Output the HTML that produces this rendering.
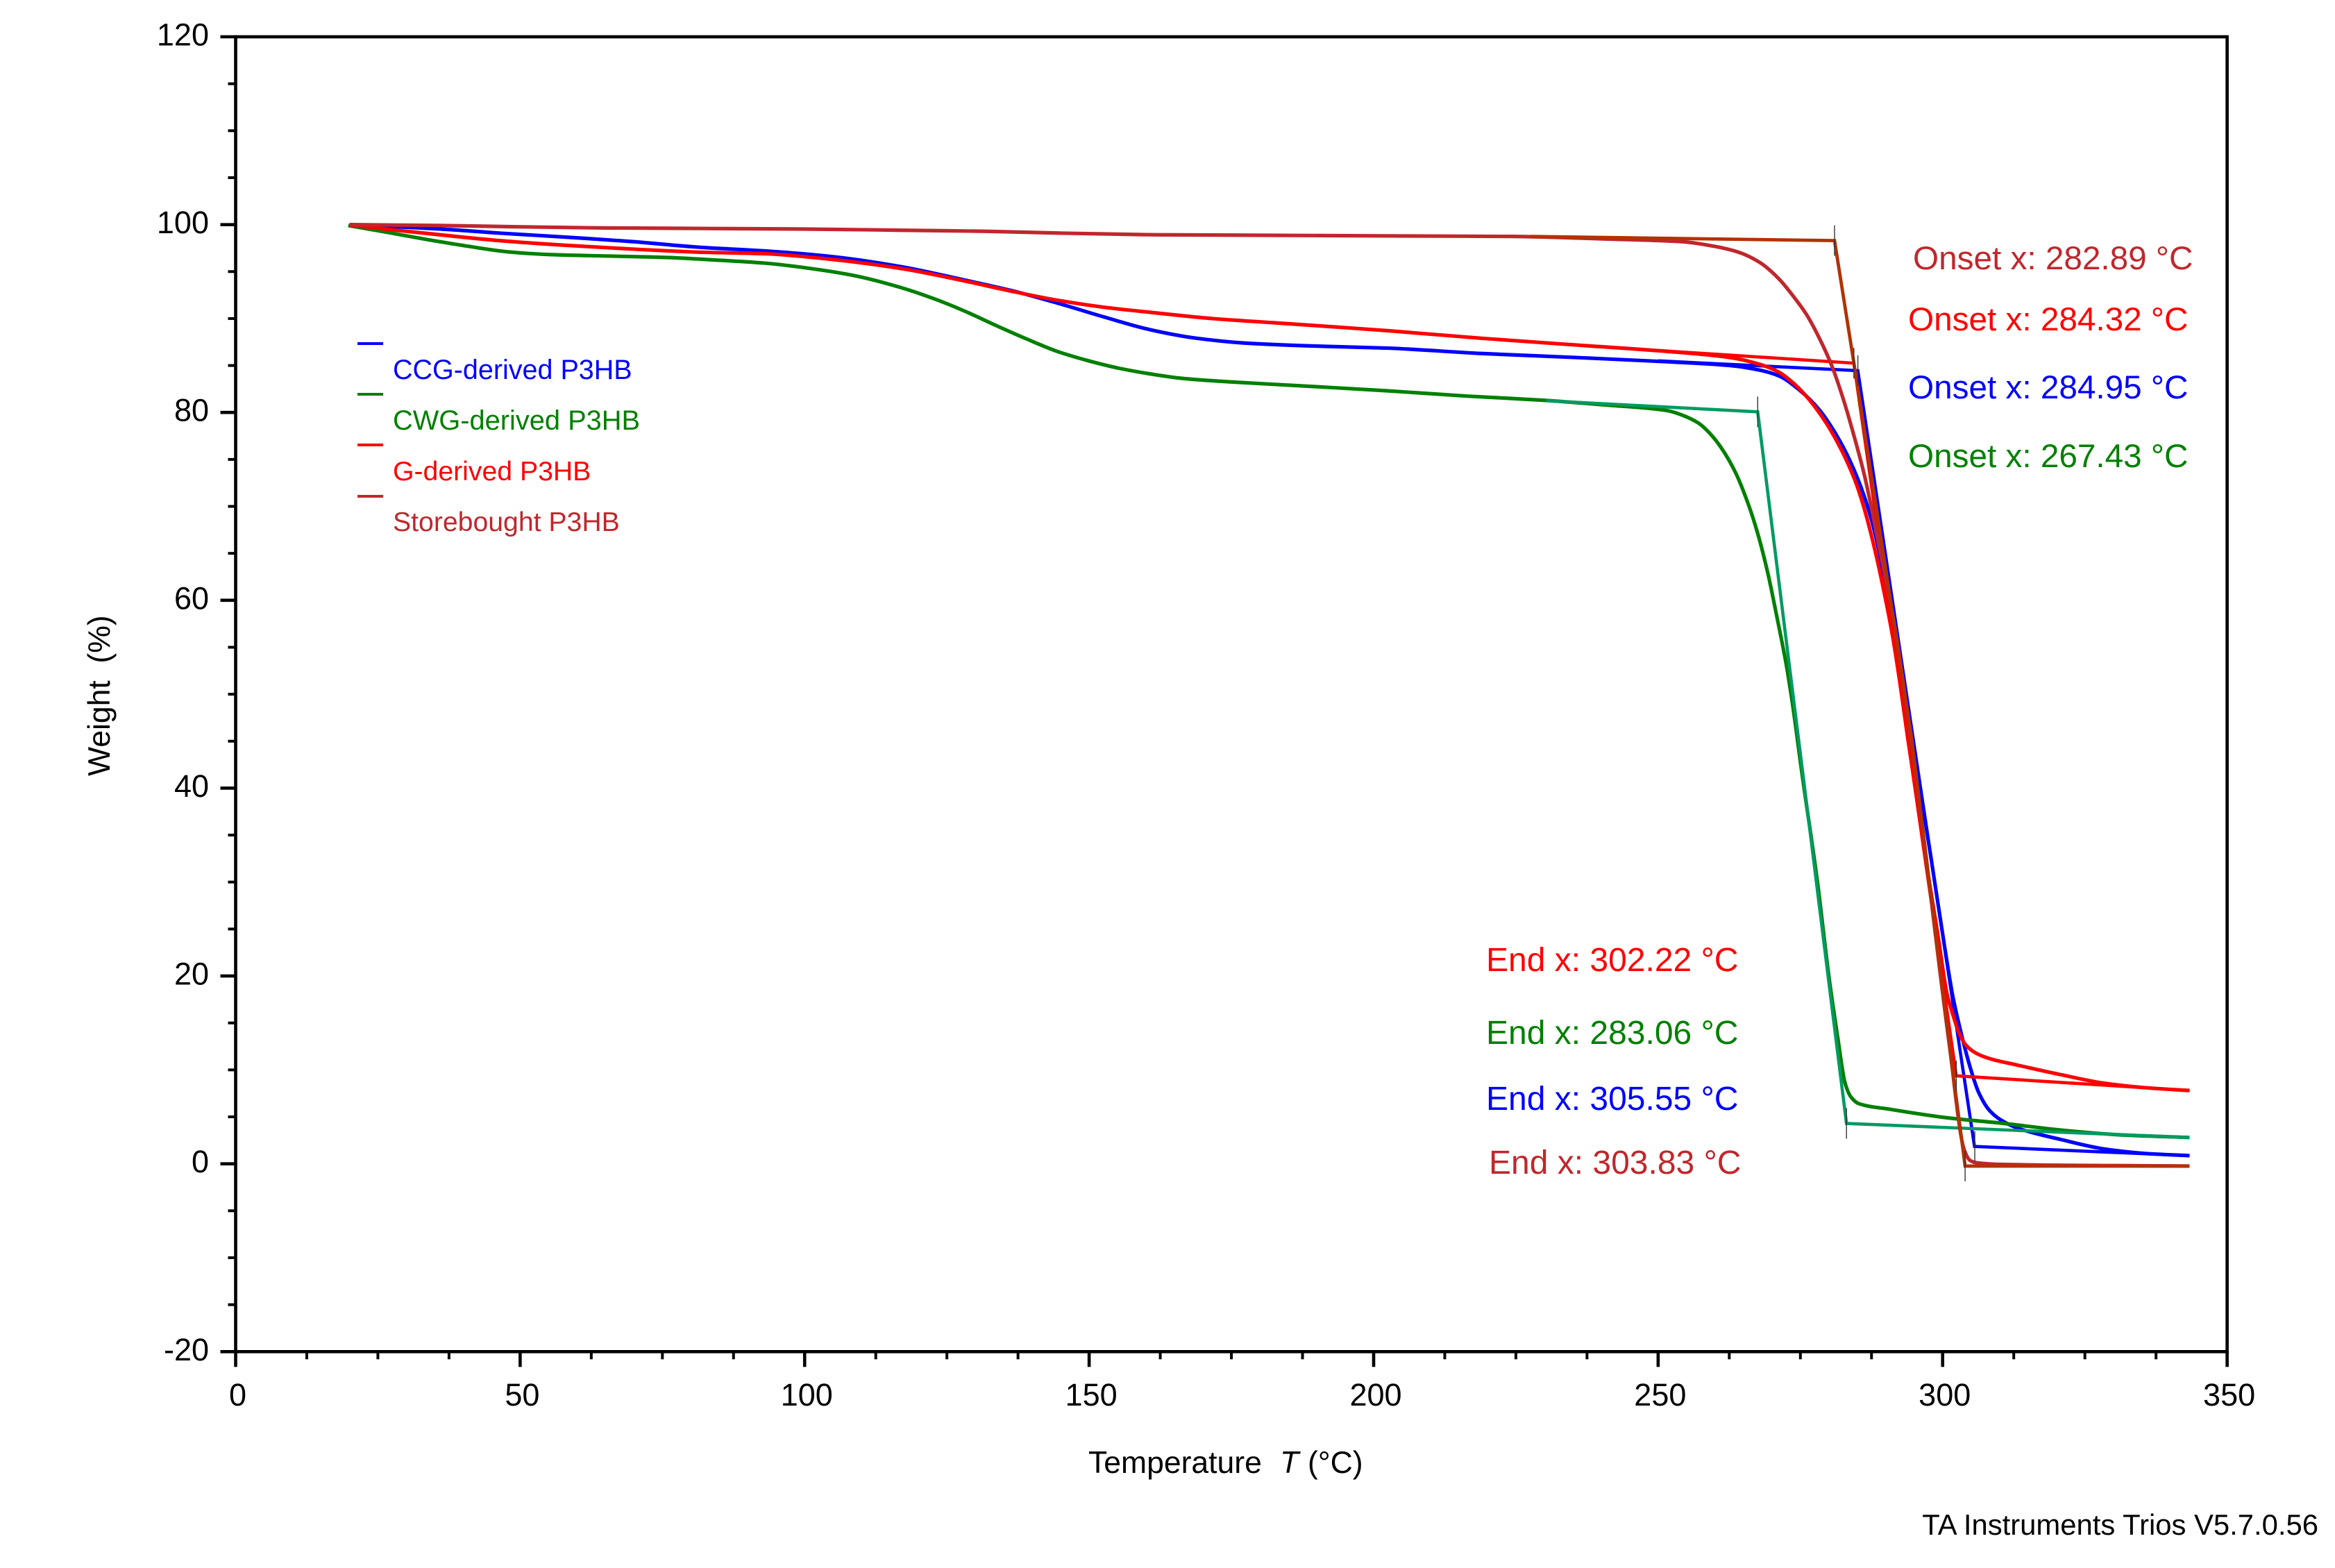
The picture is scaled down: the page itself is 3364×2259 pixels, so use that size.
<!DOCTYPE html>
<html lang="en">
<head>
<meta charset="utf-8">
<title>TGA Weight vs Temperature</title>
<style>
html,body{margin:0;padding:0;background:#fff;}
svg{display:block;font-family:"Liberation Sans",Arial,sans-serif;}
</style>
</head>
<body>
<svg id="chart" xmlns="http://www.w3.org/2000/svg" width="3364" height="2259" viewBox="0 0 3364 2259">
  <rect x="0" y="0" width="3364" height="2259" fill="#ffffff"/>
  <g id="marks"></g>
  <g id="axes"></g>

  <text transform="rotate(-90 158 1118)" x="158" y="1118" font-size="44.5" fill="#000" xml:space="preserve">Weight  (%)</text>
  <text y="2122" font-size="44.5" fill="#000"><tspan x="1568">Temperature</tspan><tspan x="1844" font-style="italic">T</tspan><tspan x="1884">(°C)</tspan></text>
  <text x="3340" y="2211" font-size="41.8" text-anchor="end" fill="#000">TA Instruments Trios V5.7.0.56</text>

  <g font-size="39.5">
    <rect x="515" y="493" width="37" height="4" fill="#0000ff"/>
    <text x="566" y="546" fill="#0000ff">CCG-derived P3HB</text>
    <rect x="515" y="566" width="37" height="4" fill="#008000"/>
    <text x="566" y="619" fill="#008000" font-size="39.8">CWG-derived P3HB</text>
    <rect x="515" y="639" width="37" height="4" fill="#ff0000"/>
    <text x="566" y="692" fill="#ff0000" font-size="39.2">G-derived P3HB</text>
    <rect x="515" y="713" width="37" height="4" fill="#c0272d"/>
    <text x="566" y="765" fill="#c0272d" font-size="39.2">Storebought P3HB</text>
  </g>

  <g font-size="47.7">
    <text x="2756" y="388" fill="#c0272d">Onset x: 282.89 °C</text>
    <text x="2749" y="476" fill="#ff0000">Onset x: 284.32 °C</text>
    <text x="2749" y="574" fill="#0000ff">Onset x: 284.95 °C</text>
    <text x="2749" y="673" fill="#008000">Onset x: 267.43 °C</text>
    <text x="2141" y="1399" font-size="48" fill="#ff0000">End x: 302.22 °C</text>
    <text x="2141" y="1504" font-size="48" fill="#008000">End x: 283.06 °C</text>
    <text x="2141" y="1599" font-size="48" fill="#0000ff">End x: 305.55 °C</text>
    <text x="2145" y="1691" font-size="48" fill="#c0272d">End x: 303.83 °C</text>
  </g>
</svg>

<script>
// Axis tick labels
const xTickLabels = [0, 50, 100, 150, 200, 250, 300, 350];
const yTickLabels = [-20, 0, 20, 40, 60, 80, 100, 120];

// CCG-derived P3HB
const ccgTemp = [20,36.9,46.3,58,69.6,81.3,93,104.7,117.2,128.1,136.2,144.4,152.6,160.8,168.9,177.1,188,202.6,218.9,235.2,251.6,262.5,267.9,271.2,275,278.3,280.2,282.7,285.1,287.2,288.8,290.2,291.6,295,298,300.4,301.8,303.4,304.8,306.3,308.25,310.2,313.2,320.7,328.2,335.6,343.4];
const ccgWeight = [100,99.5,99.1,98.67,98.2,97.6,97.2,96.6,95.5,94.1,93,91.65,90.17,88.8,87.9,87.4,87.1,86.85,86.28,85.86,85.4,85,84.5,83.9,82.3,80.3,78.7,76.1,72.9,69.2,65.3,60.9,56.8,44,32.4,22.9,17.8,13.55,10.35,7.64,5.67,4.68,3.8,2.6,1.6,1.1,0.87];
const ccgTangentTemp = [250,285.1,305.6,343.4];
const ccgTangentWeight = [85.5,84.45,1.85,0.87];

// CWG-derived P3HB
const cwgTemp = [19.8,26.8,33.8,40.8,47.9,55.6,65.8,75.9,85.2,93,100.8,108.5,117.2,122.6,128.1,133.5,139,144.4,149.9,155.3,160.8,166.2,174.4,185.3,202.6,216.2,229.8,240.7,251.6,254.3,257,259.2,261.13,263.6,266,267.6,269.3,270.9,272.5,273.7,275.2,278,280,281.6,282.85,283.85,285.3,290.8,300.8,310.7,320.7,330.7,343.4];
const cwgWeight = [99.9,99.16,98.4,97.7,97.1,96.8,96.65,96.5,96.2,95.9,95.35,94.6,93.25,92.14,90.8,89.3,87.83,86.5,85.5,84.7,84.1,83.64,83.27,82.9,82.3,81.75,81.3,80.8,80.2,79.7,78.9,77.7,76.2,73.6,69.97,66.9,62.83,58.15,53.2,48.6,41.9,30,20,13.3,8.6,7.15,6.4,5.8,4.9,4.3,3.6,3.1,2.8];
const cwgTangentTemp = [230.3,267.5,283.1,343.4];
const cwgTangentWeight = [81.25,80.07,4.3,2.8];

// G-derived P3HB
const gTemp = [20,26.8,34.6,46.3,58,69.6,81.3,93,104.7,117.2,128.1,136.2,144.4,152.6,160.8,171.6,182.5,193.4,202.6,218.9,235.2,251.6,262.5,267.9,271.2,274,276.5,279.4,282.3,284.7,286.3,288,289.6,291.2,292.45,293.9,295.7,297.3,299.2,300.8,301.8,302.8,304,305.8,308.25,313.2,320.7,328.2,335.6,343.4];
const gWeight = [99.95,99.5,99,98.3,97.8,97.4,97.07,96.9,96.3,95.3,94,92.93,91.95,91.2,90.66,90,89.55,89.1,88.7,87.9,87.2,86.5,85.86,85.12,84.3,83,81.4,79,75.9,72.6,69.6,65.6,61.2,56.2,51.4,45.2,38,31.4,24.2,18,15.9,14.05,12.7,11.8,11.2,10.5,9.5,8.6,8.1,7.8];
const gTangentTemp = [250,284.4,302.4,343.4];
const gTangentWeight = [86.6,85.25,9.37,7.8];

// Storebought P3HB
const storeTemp = [20,36.9,48.6,62.6,79,100,117.2,131.9,145.5,161.8,189.1,202.6,224.4,240.7,254.3,259.8,264.1,267.9,271.2,273.9,276.1,278.3,280.5,282.6,284.7,286.3,287.6,288.8,291.4,294.5,301.2,303.8,304.8,305.8,310.7,343.4];
const storeWeight = [100,99.9,99.78,99.66,99.6,99.53,99.4,99.29,99.09,98.92,98.84,98.8,98.74,98.47,98.18,97.7,97.07,95.96,94.24,92.26,90.4,87.95,85,81.3,76.9,73.2,69.5,65.8,57.9,45,12.57,1.48,0.37,0.13,-0.07,-0.24];
const storeTangentTemp = [227.6,281,285.5,294.5,301.2,303.95,343.4];
const storeTangentWeight = [98.74,98.3,81.06,45.58,12.57,-0.24,-0.24];

// Onset / end vertices marked with thin vertical cursors
const cursorTemp = [281,284.4,285.1,267.5,303.95,302.4,305.65,283.1];
const cursorWeight = [98.3,85.25,84.45,80.07,-0.24,9.37,1.85,4.3];

const NS = 'http://www.w3.org/2000/svg';
const plotLeft = 339.5, plotRight = 3208.6, plotTop = 53, plotBottom = 1947.3;
const xMin = 0, xMax = 350, yMin = -20, yMax = 120;
function xScale(v) { return plotLeft + (v - xMin) / (xMax - xMin) * (plotRight - plotLeft); }
function yScale(v) { return plotBottom - (v - yMin) / (yMax - yMin) * (plotBottom - plotTop); }

const marks = document.getElementById('marks');
const axes = document.getElementById('axes');

function pointsOf(ts, ws) {
  return ts.map(function (t, i) { return xScale(t).toFixed(2) + ',' + yScale(ws[i]).toFixed(2); }).join(' ');
}
// Monotone cubic (Fritsch-Carlson) path through the data points
function smoothPathOf(ts, ws) {
  const xs = ts.map(xScale), ys = ws.map(yScale), n = xs.length;
  const sec = [], m = new Array(n);
  for (let i = 0; i < n - 1; i++) sec.push((ys[i + 1] - ys[i]) / (xs[i + 1] - xs[i]));
  m[0] = sec[0]; m[n - 1] = sec[n - 2];
  for (let i = 1; i < n - 1; i++) {
    if (sec[i - 1] * sec[i] <= 0) { m[i] = 0; }
    else {
      const h0 = xs[i] - xs[i - 1], h1 = xs[i + 1] - xs[i];
      const w1 = 2 * h1 + h0, w2 = h1 + 2 * h0;
      m[i] = (w1 + w2) / (w1 / sec[i - 1] + w2 / sec[i]);
    }
  }
  let d = 'M' + xs[0].toFixed(2) + ' ' + ys[0].toFixed(2);
  for (let i = 0; i < n - 1; i++) {
    const h = (xs[i + 1] - xs[i]) / 3;
    d += 'C' + (xs[i] + h).toFixed(2) + ' ' + (ys[i] + m[i] * h).toFixed(2) + ' ' +
         (xs[i + 1] - h).toFixed(2) + ' ' + (ys[i + 1] - m[i + 1] * h).toFixed(2) + ' ' +
         xs[i + 1].toFixed(2) + ' ' + ys[i + 1].toFixed(2);
  }
  return d;
}
function drawLine(parent, x1, y1, x2, y2, w, color) {
  const l = document.createElementNS(NS, 'line');
  l.setAttribute('x1', x1); l.setAttribute('y1', y1);
  l.setAttribute('x2', x2); l.setAttribute('y2', y2);
  l.setAttribute('stroke', color); l.setAttribute('stroke-width', w);
  parent.appendChild(l);
  return l;
}
function drawCurve(ts, ws, color, width) {
  const p = document.createElementNS(NS, 'path');
  p.setAttribute('d', smoothPathOf(ts, ws));
  p.setAttribute('fill', 'none');
  p.setAttribute('stroke', color);
  p.setAttribute('stroke-width', width);
  p.setAttribute('stroke-linejoin', 'round');
  marks.appendChild(p);
  return p;
}
function drawTangent(ts, ws, color, width) {
  const p = document.createElementNS(NS, 'polyline');
  p.setAttribute('points', pointsOf(ts, ws));
  p.setAttribute('fill', 'none');
  p.setAttribute('stroke', color);
  p.setAttribute('stroke-width', width);
  p.setAttribute('stroke-linejoin', 'miter');
  marks.appendChild(p);
  return p;
}

let s;
s = drawCurve(ccgTemp, ccgWeight, '#0000ff', 5.2);


s = drawTangent(ccgTangentTemp, ccgTangentWeight, '#0000ff', 4.6);


s = drawCurve(cwgTemp, cwgWeight, '#008000', 5.2);


s = drawTangent(cwgTangentTemp, cwgTangentWeight, '#009a63', 4.6);


s = drawCurve(gTemp, gWeight, '#ff0000', 5.2);


s = drawTangent(gTangentTemp, gTangentWeight, '#ff0000', 4.6);


s = drawCurve(storeTemp, storeWeight, '#c0272d', 5.2);


s = drawTangent(storeTangentTemp, storeTangentWeight, '#b23204', 4.8);



cursorTemp.forEach(function (t, i) {
  const cx = xScale(t), cy = yScale(cursorWeight[i]);
  const c = drawLine(marks, cx, cy - 22, cx, cy + 22, 1.4, '#333333');
  
  
});

// Axis frame
const frame = document.createElementNS(NS, 'rect');
frame.setAttribute('x', plotLeft);
frame.setAttribute('y', plotTop);
frame.setAttribute('width', plotRight - plotLeft);
frame.setAttribute('height', plotBottom - plotTop);
frame.setAttribute('fill', 'none');
frame.setAttribute('stroke', '#000');
frame.setAttribute('stroke-width', 4.6);


axes.appendChild(frame);

// X ticks
const xMinorPerMajor = 4;
xTickLabels.forEach(function (v, i) {
  const px = xScale(v);
  const t = drawLine(axes, px, plotBottom, px, plotBottom + 22, 4.6, '#000');
  
  
  const lab = document.createElementNS(NS, 'text');
  lab.setAttribute('x', px + 3);
  lab.setAttribute('y', 2025);
  lab.setAttribute('font-size', 45);
  lab.setAttribute('text-anchor', 'middle');
  lab.textContent = v;
  
  
  axes.appendChild(lab);
  if (i < xTickLabels.length - 1) {
    const step = (xTickLabels[i + 1] - v) / xMinorPerMajor;
    for (let k = 1; k < xMinorPerMajor; k++) {
      const mx = xScale(v + k * step);
      const m = drawLine(axes, mx, plotBottom, mx, plotBottom + 11, 4, '#000');
      
      
    }
  }
});

// Y ticks
const yMinorPerMajor = 4;
yTickLabels.forEach(function (v, i) {
  const py = yScale(v);
  const t = drawLine(axes, plotLeft - 22, py, plotLeft, py, 4.6, '#000');
  
  
  const lab = document.createElementNS(NS, 'text');
  lab.setAttribute('x', 301);
  lab.setAttribute('y', py + 12.5);
  lab.setAttribute('font-size', 45);
  lab.setAttribute('text-anchor', 'end');
  lab.textContent = v;
  
  
  axes.appendChild(lab);
  if (i < yTickLabels.length - 1) {
    const step = (yTickLabels[i + 1] - v) / yMinorPerMajor;
    for (let k = 1; k < yMinorPerMajor; k++) {
      const my = yScale(v + k * step);
      const m = drawLine(axes, plotLeft - 11, my, plotLeft, my, 4, '#000');
      
      
    }
  }
});
</script>
</body>
</html>
